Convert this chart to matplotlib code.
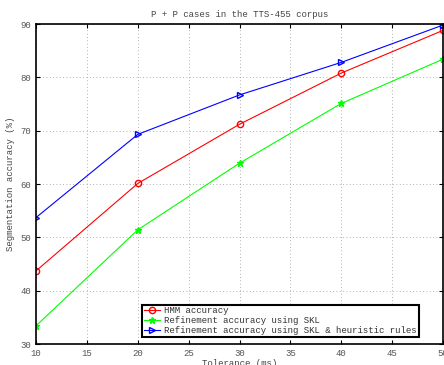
import matplotlib
matplotlib.use("Agg")
import matplotlib.pyplot as plt

tolerance = [10, 20, 30, 40, 50]
hmm_acc = [43.7, 60.1, 71.2, 80.8, 88.8]
skl_acc = [33.4, 51.4, 63.9, 75.1, 83.4]
skl_rules_acc = [53.7, 69.3, 76.7, 82.8, 89.8]

plt.rcParams["font.family"] = "Liberation Mono"
plt.rcParams["font.size"] = 6.5

fig = plt.figure(figsize=(4.44, 3.65), dpi=100)
ax = fig.add_axes([36 / 444, 1 - 344 / 365, 407 / 444, 320 / 365])

ax.plot(tolerance, hmm_acc, color="red", marker="o", markerfacecolor="none",
        markersize=4.5, linewidth=0.8, label="HMM accuracy")
ax.plot(tolerance, skl_acc, color="#00ff00", marker="*", markersize=4.5,
        linewidth=0.8, label="Refinement accuracy using SKL")
ax.plot(tolerance, skl_rules_acc, color="blue", marker=">", markerfacecolor="none",
        markersize=4.5, linewidth=0.8,
        label="Refinement accuracy using SKL & heuristic rules")

ax.set_xlim(10, 50)
ax.set_ylim(30, 90)
ax.set_xticks(range(10, 51, 5))
ax.set_yticks(range(30, 91, 10))
ax.grid(True, linestyle=(0, (1, 3)), color="#999999", linewidth=0.6)
ax.tick_params(direction="in", top=True, right=True, labelsize=6.5,
               labelcolor="#555555", length=3, width=0.8)
for s in ax.spines.values():
    s.set_linewidth(1.2)

ax.set_title("P + P cases in the TTS-455 corpus", fontsize=6.5, color="#444444", pad=5)
ax.set_xlabel("Tolerance (ms)", fontsize=6.5, color="#444444", labelpad=1)
ax.set_ylabel("Segmentation accuracy (%)", fontsize=6.5, color="#444444", labelpad=4)

leg = ax.legend(loc="lower left", bbox_to_anchor=(0.26, 0.022), borderaxespad=0,
                fancybox=False, framealpha=1, edgecolor="black",
                handlelength=1.8, handletextpad=0.5, borderpad=0.2,
                labelspacing=0.1,
                prop={"family": "Liberation Mono", "size": 6.5})
leg.get_frame().set_linewidth(1.5)
for t in leg.get_texts():
    t.set_color("#333333")

fig.savefig("out.png", dpi=100)
